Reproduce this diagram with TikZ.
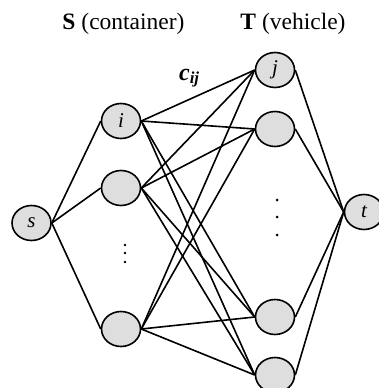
\documentclass[tikz,border=0pt]{standalone}
\usepackage{fontspec}
\setmainfont{Liberation Serif}
\usetikzlibrary{shapes.geometric}
\begin{document}
\begin{tikzpicture}[x=1pt,y=-1pt,line width=1.6pt,
    vertex/.style={ellipse,draw,fill=gray!26,minimum width=39pt,minimum height=35pt,inner sep=0pt,font=\fontsize{21}{23}\selectfont\itshape},
    head/.style={anchor=base,font=\fontsize{23.5}{25}\selectfont}]
  \useasboundingbox (0,0) rectangle (379,388);
  \node[head] (hS) at (123.5,29) {\textbf{S} (container)};
  \node[head] (hT) at (293,29) {\textbf{T} (vehicle)};
  \node[vertex] (s) at (31.5,223) {s};
  \node[vertex] (a1) at (121,121) {i};
  \node[vertex] (a2) at (121,188) {};
  \node[vertex] (a3) at (121,329) {};
  \node[vertex] (b1) at (275,70) {j};
  \node[vertex] (b2) at (275,129) {};
  \node[vertex] (b3) at (275,317) {};
  \node[vertex] (b4) at (275,375) {};
  \node[vertex] (t) at (364,212) {t};
  \node[anchor=base west,font=\fontsize{24}{26}\selectfont\bfseries\itshape] (cij) at (175,80) {c\textsubscript{ij}};
  \foreach \y in {245,253,262} \fill (125,\y) circle (1.3);
  \foreach \y in {200,217,235} \fill (277,\y) circle (1.5);
  \foreach \a in {a1,a2,a3} {
    \draw (s.east) -- (\a.west);
    \foreach \b in {b1,b2,b3,b4}
      \draw (\a.east) -- (\b.west);
  }
  \foreach \b in {b1,b2,b3,b4}
    \draw (\b.east) -- (t.west);
\end{tikzpicture}
\end{document}
